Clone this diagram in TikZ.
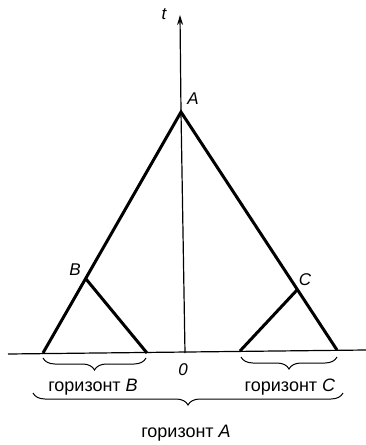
\documentclass[tikz,border=0pt]{standalone}
\usepackage{fontspec}
\setmainfont{Liberation Sans}
\usetikzlibrary{decorations.pathreplacing,arrows.meta}
\begin{document}
\begin{tikzpicture}[x=1pt,y=-1pt,
  thick line/.style={line width=3pt,line join=miter},
  axis/.style={line width=1.2pt},
  brc/.style={line width=1pt,decorate,decoration={brace,mirror,amplitude=12pt}},
  lbl/.style={font=\fontsize{17}{19}\selectfont\itshape,inner sep=1pt},
  htext/.style={font=\fontsize{18}{20}\selectfont,inner sep=1pt}]
\useasboundingbox (0,0) rectangle (366,445);
% points
\coordinate (A) at (181,112);
\coordinate (AL) at (43,353);
\coordinate (AR) at (337,350);
\coordinate (B) at (86,279);
\coordinate (BR) at (147,353);
\coordinate (C) at (297,290);
\coordinate (CL) at (240,351);
\coordinate (O) at (185,353);
\coordinate (T) at (180,15);
\coordinate (XL) at (8,354);
\coordinate (XR) at (366,350);
% axes
\draw[axis] (XL) -- (XR);
\draw[axis,-{Stealth[length=10pt,width=6pt]}] (O) -- (A) -- (T);
% light cones
\draw[thick line] (AL) -- (A) -- (AR);
\draw[thick line] (B) -- (BR);
\draw[thick line] (CL) -- (C);
% labels
\node[lbl] (tl) at (164,14) {t};
\node[lbl] (Al) at (193,99) {A};
\node[lbl] (Bl) at (75,270) {B};
\node[lbl] (Cl) at (305,280) {C};
\node[lbl] (Ol) at (183,370) {0};
% braces
\coordinate (b1) at (43,358);
\coordinate (b2) at (146,358);
\coordinate (c1) at (241,357);
\coordinate (c2) at (337,357);
\coordinate (a1) at (33,393);
\coordinate (a2) at (343,393);
\draw[brc] (b1) -- (b2);
\draw[brc] (c1) -- (c2);
\draw[brc] (a1) -- (a2);
\node[htext] (hB) at (93,387) {горизонт \textit{B}};
\node[htext] (hC) at (290,387) {горизонт \textit{C}};
\node[htext] (hA) at (186,433) {горизонт \textit{A}};
\end{tikzpicture}
\end{document}
